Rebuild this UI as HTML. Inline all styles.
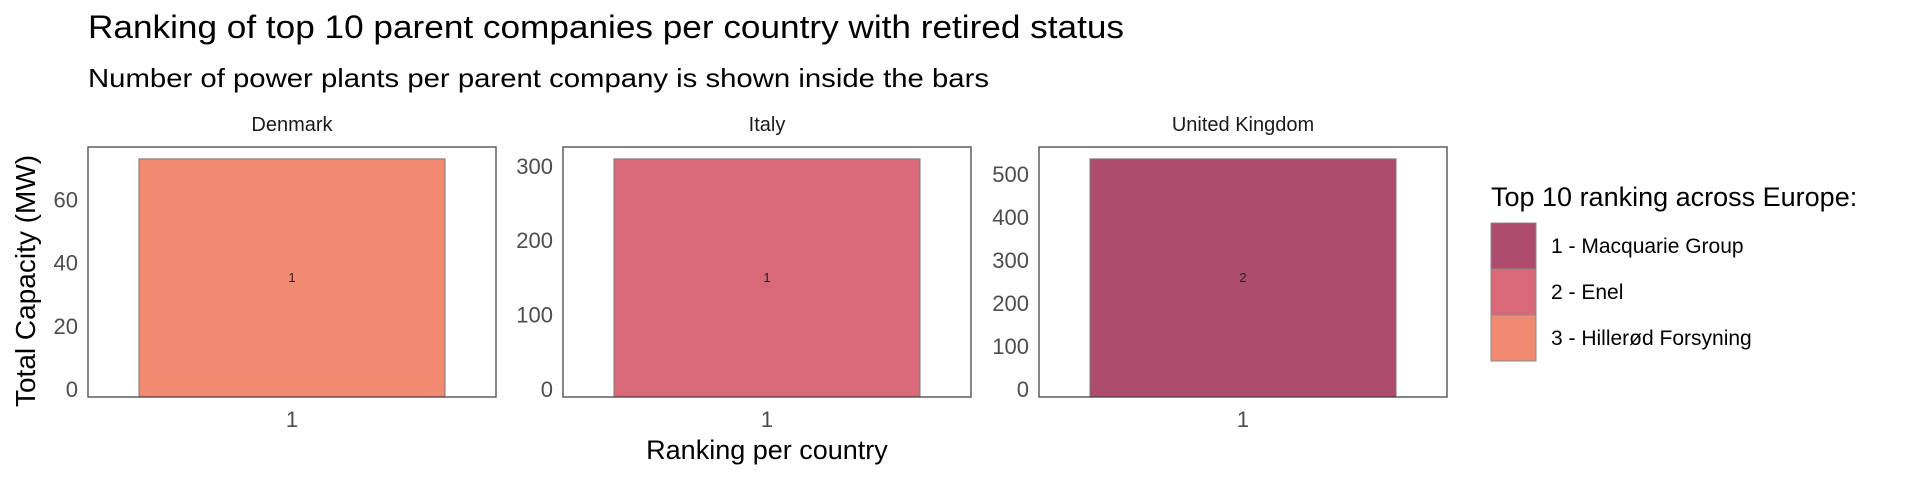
<!DOCTYPE html>
<html><head><meta charset="utf-8"><style>
html,body{margin:0;padding:0;background:#fff;}
svg{display:block;font-family:"Liberation Sans",sans-serif;}
</style></head><body>
<svg id="chart" width="1920" height="480" viewBox="0 0 1920 480">
<text x="88" y="38" font-size="32" fill="#000" textLength="1036" lengthAdjust="spacingAndGlyphs">Ranking of top 10 parent companies per country with retired status</text>
<text x="88" y="87" font-size="26" fill="#000" textLength="901" lengthAdjust="spacingAndGlyphs">Number of power plants per parent company is shown inside the bars</text>
<text transform="translate(35,281) rotate(-90)" text-anchor="middle" font-size="28" fill="#000">Total Capacity (MW)</text>
<text x="767" y="459" text-anchor="middle" font-size="27" fill="#000">Ranking per country</text>
<g id="panels"></g>
<g id="legend">
<text x="1491" y="206" font-size="27" fill="#000">Top 10 ranking across Europe:</text>
</g>
</svg>
<script>
const countries = ["Denmark", "Italy", "United Kingdom"];
const capacities = [75.3, 320, 554];
const plantCounts = [1, 1, 2];
const rankLabels = ["1", "1", "1"];
const barColorIndex = [2, 1, 0];
const yTicks = [[0, 20, 40, 60], [0, 100, 200, 300], [0, 100, 200, 300, 400, 500]];
const legendLabels = ["1 - Macquarie Group", "2 - Enel", "3 - Hillerød Forsyning"];
const legendColors = ["#ad4c6d", "#d96879", "#f28a72"];

const NS = "http://www.w3.org/2000/svg";
const panelX = [88, 563, 1039];
const panelW = 408, panelTop = 147, panelBot = 397;
function mk(tag, attrs, parent) {
  const e = document.createElementNS(NS, tag);
  for (const k in attrs) e.setAttribute(k, attrs[k]);
  parent.appendChild(e);
  return e;
}
const panels = document.getElementById("panels");
countries.forEach((c, i) => {
  const g = mk("g", {}, panels);
  
  
  const x0 = panelX[i];
  const maxV = capacities[i] * 1.05;
  const y = v => panelBot - v / maxV * (panelBot - panelTop);
  const strip = mk("text", {x: x0 + panelW / 2, y: 131, "text-anchor": "middle", "font-size": 20, fill: "#1a1a1a"}, g);
  strip.textContent = c;
  
  
  const bx = x0 + panelW * 0.125, bw = panelW * 0.75;
  const bar = mk("rect", {x: bx, y: y(capacities[i]), width: bw, height: y(0) - y(capacities[i]), fill: legendColors[barColorIndex[i]], stroke: "#777", "stroke-width": 1}, g);
  
  
  const bl = mk("text", {x: x0 + panelW / 2, y: y(capacities[i] / 2) + 4, "text-anchor": "middle", "font-size": 13, fill: "#222"}, g);
  bl.textContent = plantCounts[i];
  
  
  const border = mk("rect", {x: x0, y: panelTop, width: panelW, height: panelBot - panelTop, fill: "none", stroke: "#444", "stroke-width": 1.3}, g);
  
  
  yTicks[i].forEach(t => {
    const tl = mk("text", {x: x0 - 10, y: y(t), "text-anchor": "end", "font-size": 22, fill: "#4d4d4d"}, g);
    tl.textContent = t;
    
    
  });
  const xl = mk("text", {x: x0 + panelW / 2, y: 427, "text-anchor": "middle", "font-size": 22, fill: "#4d4d4d"}, g);
  xl.textContent = rankLabels[i];
  
  
});
const lg = document.getElementById("legend");
legendLabels.forEach((l, i) => {
  const ky = 223 + i * 46;
  const key = mk("rect", {x: 1491, y: ky, width: 45, height: 46, fill: legendColors[i], stroke: "#888", "stroke-width": 1}, lg);
  
  
  const lt = mk("text", {x: 1551, y: ky + 30, "font-size": 21, fill: "#000"}, lg);
  lt.textContent = l;
  
  
});
</script>
</body></html>
